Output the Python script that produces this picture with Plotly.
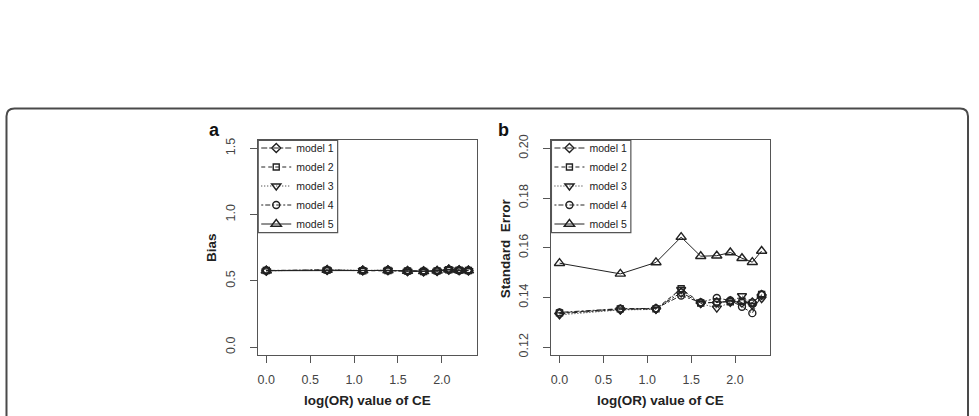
import plotly.graph_objects as go

# ---------------- data ----------------
x_logor = [0.0, 0.693, 1.099, 1.386, 1.609, 1.792, 1.946, 2.079, 2.197, 2.303]
x_ticks = [0.0, 0.5, 1.0, 1.5, 2.0]
x_ticktext = ["0.0", "0.5", "1.0", "1.5", "2.0"]

models = ["model 1", "model 2", "model 3", "model 4", "model 5"]

bias_m1 = [0.577, 0.582, 0.578, 0.580, 0.574, 0.572, 0.575, 0.585, 0.581, 0.578]
bias_m2 = [0.578, 0.581, 0.577, 0.579, 0.575, 0.571, 0.576, 0.584, 0.580, 0.579]
bias_m3 = [0.576, 0.583, 0.579, 0.581, 0.573, 0.572, 0.574, 0.586, 0.582, 0.577]
bias_m4 = [0.579, 0.582, 0.578, 0.580, 0.574, 0.573, 0.575, 0.585, 0.579, 0.578]
bias_m5 = [0.577, 0.581, 0.578, 0.579, 0.574, 0.572, 0.576, 0.584, 0.580, 0.578]

se_m1 = [0.1335, 0.1352, 0.1355, 0.1420, 0.1378, 0.1380, 0.1385, 0.1380, 0.1380, 0.1410]
se_m2 = [0.1338, 0.1354, 0.1354, 0.1435, 0.1378, 0.1382, 0.1383, 0.1385, 0.1378, 0.1412]
se_m3 = [0.1330, 0.1350, 0.1352, 0.1432, 0.1376, 0.1357, 0.1380, 0.1407, 0.1368, 0.1395]
se_m4 = [0.1340, 0.1355, 0.1356, 0.1408, 0.1380, 0.1398, 0.1388, 0.1363, 0.1337, 0.1412]
se_m5 = [0.1538, 0.1495, 0.1541, 0.1643, 0.1566, 0.1568, 0.1581, 0.1558, 0.1542, 0.1587]

bias_ticks = [0.0, 0.5, 1.0, 1.5]
bias_ticktext = ["0.0", "0.5", "1.0", "1.5"]
se_ticks = [0.12, 0.14, 0.16, 0.18, 0.20]
se_ticktext = ["0.12", "0.14", "0.16", "0.18", "0.20"]

# ---------------- styles ----------------
symbols = ["diamond-open", "square-open", "triangle-down-open", "circle-open", "triangle-up-open"]
sizes = [7, 6, 8, 7, 9]
dashes = ["6px,2px,2px,2px", "4px,3px", "1px,2px", "2px,2px,5px,2px", "solid"]

W, H = 979, 416
FONT = "Liberation Sans, Arial, Helvetica, sans-serif"
INK = "#222222"
GREY = "#555555"


def px(x):
    return x / W


def py(y):
    return 1 - y / H


fig = go.Figure()

bias_sets = [bias_m1, bias_m2, bias_m3, bias_m4, bias_m5]
se_sets = [se_m1, se_m2, se_m3, se_m4, se_m5]

for i, name in enumerate(models):
    fig.add_trace(go.Scatter(
        x=x_logor, y=bias_sets[i], name=name, mode="lines+markers",
        line=dict(color=INK, width=1, dash=dashes[i]),
        marker=dict(symbol=symbols[i], size=sizes[i], color=INK, line=dict(width=1.4, color=INK)),
        xaxis="x", yaxis="y", legend="legend"))
for i, name in enumerate(models):
    fig.add_trace(go.Scatter(
        x=x_logor, y=se_sets[i], name=name, mode="lines+markers",
        line=dict(color=INK, width=1, dash=dashes[i]),
        marker=dict(symbol=symbols[i], size=sizes[i], color=INK, line=dict(width=1.4, color=INK)),
        xaxis="x2", yaxis="y2", legend="legend2"))

common_x = dict(
    range=[-0.092, 2.395], tickmode="array", tickvals=x_ticks, ticktext=x_ticktext,
    ticks="outside", ticklen=7, tickcolor=GREY, tickwidth=1,
    showline=True, mirror=True, linecolor=GREY, linewidth=1.2,
    showgrid=False, zeroline=False,
    tickfont=dict(family=FONT, size=12.5, color="#444444"), ticklabelstandoff=6,
)
common_y = dict(
    ticks="outside", ticklen=7, tickcolor=GREY, tickwidth=1,
    showline=True, mirror=True, linecolor=GREY, linewidth=1.2,
    showgrid=False, zeroline=False, tickangle=-90,
    tickfont=dict(family=FONT, size=12.5, color="#444444"), ticklabelstandoff=10,
)

xa_dom = [px(257.5), px(476)]
xb_dom = [px(551), px(769.5)]
y_dom = [py(356), py(137)]

legend_style = dict(xanchor="left", yanchor="top", bgcolor="rgba(0,0,0,0)", borderwidth=0,
                    tracegroupgap=0, font=dict(family=FONT, size=10.5, color=INK))

fig.update_layout(
    width=W, height=H,
    margin=dict(l=0, r=0, t=0, b=0),
    paper_bgcolor="white", plot_bgcolor="white",
    font=dict(family=FONT, color=INK),
    showlegend=True,
    xaxis=dict(domain=xa_dom, anchor="y", **common_x),
    yaxis=dict(domain=y_dom, anchor="x", range=[-0.06, 1.56], tickmode="array",
               tickvals=bias_ticks, ticktext=bias_ticktext, **common_y),
    xaxis2=dict(domain=xb_dom, anchor="y2", **common_x),
    yaxis2=dict(domain=y_dom, anchor="x2", range=[0.1168, 0.2032], tickmode="array",
                tickvals=se_ticks, ticktext=se_ticktext, **common_y),
    legend=dict(x=px(255.5), y=py(130), **legend_style),
    legend2=dict(x=px(549), y=py(130), **legend_style),
)

# outer rounded frame
l, r, t, b = px(5.5), px(968), py(104.5), -0.1
dx, dy = 8 / W, 8 / H
path = (f"M {l},{b} L {l},{t - dy} Q {l},{t} {l + dx},{t} "
        f"L {r - dx},{t} Q {r},{t} {r},{t - dy} L {r},{b}")
shapes = [dict(type="path", xref="paper", yref="paper", path=path,
               line=dict(color="#4a4a4a", width=2))]
# legend boxes
for x0, x1 in [(257.5, 337), (551, 630.5)]:
    shapes.append(dict(type="rect", xref="paper", yref="paper",
                       x0=px(x0), x1=px(x1), y0=py(231), y1=py(137),
                       line=dict(color=GREY, width=1.2), fillcolor="rgba(0,0,0,0)"))
fig.update_layout(shapes=shapes)

ann = []
for txt, x in [("a", 213.5), ("b", 503.5)]:
    ann.append(dict(text=f"<b>{txt}</b>", x=px(x), y=py(126), xref="paper", yref="paper",
                    showarrow=False, xanchor="center", yanchor="middle",
                    font=dict(family=FONT, size=18, color="#111111")))
for txt, x in [("Bias", 210.5), ("Standard  Error", 505)]:
    ann.append(dict(text=f"<b>{txt}</b>", x=px(x), y=py(246.5), xref="paper", yref="paper",
                    showarrow=False, xanchor="center", yanchor="middle", textangle=-90,
                    font=dict(family=FONT, size=13.5, color=INK)))
for x in [366.5, 660]:
    ann.append(dict(text="<b>log(OR) value of CE</b>", x=px(x), y=py(402), xref="paper", yref="paper",
                    showarrow=False, xanchor="center", yanchor="middle",
                    font=dict(family=FONT, size=13.5, color=INK)))
fig.update_layout(annotations=ann)

fig.write_html("out.html", config={"displayModeBar": False})
